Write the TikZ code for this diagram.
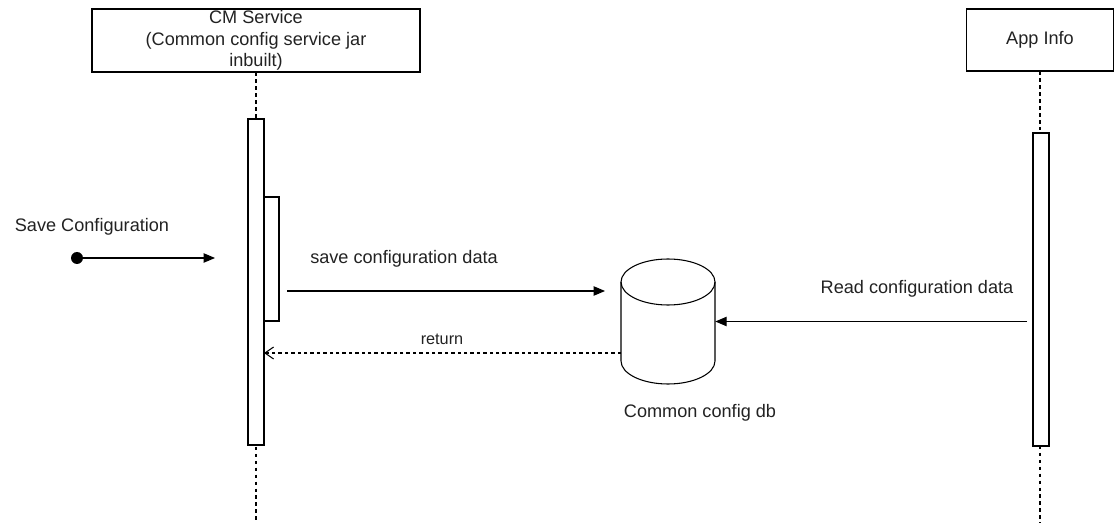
\documentclass[tikz,border=0pt]{standalone}
\usepackage{fontspec}
\setmainfont{Liberation Sans}
\usetikzlibrary{arrows.meta}
\definecolor{txt}{RGB}{34,34,34}
\begin{document}
\begin{tikzpicture}[x=0.75pt,y=-0.75pt,
  every node/.style={font=\fontsize{13.6}{15.75}\selectfont, text=txt},
  actorbox/.style={draw, line width=0.8pt, inner sep=0pt, align=center},
  lifeline/.style={line width=0.8pt, dash pattern=on 2.6pt off 2.6pt},
  bar/.style={draw, fill=white, line width=0.8pt, inner sep=0pt},
  msg/.style={line width=0.8pt, -{Triangle[length=8.5pt,width=7pt]}},
  retmsg/.style={line width=0.8pt, dash pattern=on 2.6pt off 2.2pt, -{Straight Barb[length=6.5pt,width=9pt]}},
  lbl/.style={inner sep=0pt},
  smalllbl/.style={inner sep=0pt, font=\fontsize{12.2}{14}\selectfont},
  cyl/.style={line width=0.8pt}
]
\useasboundingbox (0,0) rectangle (1119,523);

% actors
\node[actorbox, minimum width=246pt, minimum height=47.25pt,
      font=\fontsize{13.6}{16.2}\selectfont] (cm) at (256,40.5)
  {CM Service\\(Common config service jar\\inbuilt)};
\node[actorbox, minimum width=110.25pt, minimum height=46.5pt] (app) at (1040,40) {App Info};

% lifelines
\coordinate (cmend) at (256,523);
\coordinate (append) at (1040,523);
\draw[lifeline] (cm.south) -- (cmend);
\draw[lifeline] (app.south) -- (append);

% activation bars
\node[bar, minimum width=12pt, minimum height=244.5pt] (cmbar) at (256,282) {};
\node[bar, minimum width=11.25pt, minimum height=93pt] (cminner) at (271.5,259) {};
\node[bar, minimum width=12pt, minimum height=234.75pt] (appbar) at (1041,289.5) {};

% database
\node[minimum width=70.5pt, minimum height=93.75pt, inner sep=0pt] (db) at (668,321.5) {};
\draw[cyl] (668,282) ellipse [x radius=35.25pt, y radius=17.25pt];
\draw[cyl] (621,282) -- (621,361) arc[start angle=180, end angle=360, x radius=35.25pt, y radius=17.25pt] -- (715,282);
\node[lbl] (dblabel) at (700,413) {Common config db};

% found message
\node[circle, fill=black, inner sep=0pt, minimum size=9pt] (start) at (77,258) {};
\coordinate (scend) at (215,258);
\draw[msg] (start) -- (scend);
\node[lbl] (sclabel) at (92,227) {Save Configuration};

% save configuration data
\coordinate (s1) at (287,291);
\coordinate (s2) at (605,291);
\draw[msg] (s1) -- (s2);
\node[lbl] (savelabel) at (404,259) {save configuration data};

% read configuration data
\coordinate (rd1) at (1027,321.5);
\draw[msg] (rd1) -- (db.east);
\node[lbl] (readlabel) at (917,289) {Read configuration data};

% return
\coordinate (r1) at (621,353);
\coordinate (r2) at (264,353);
\draw[retmsg] (r1) -- (r2);
\node[smalllbl] (retlabel) at (442,339) {return};
\end{tikzpicture}
\end{document}
